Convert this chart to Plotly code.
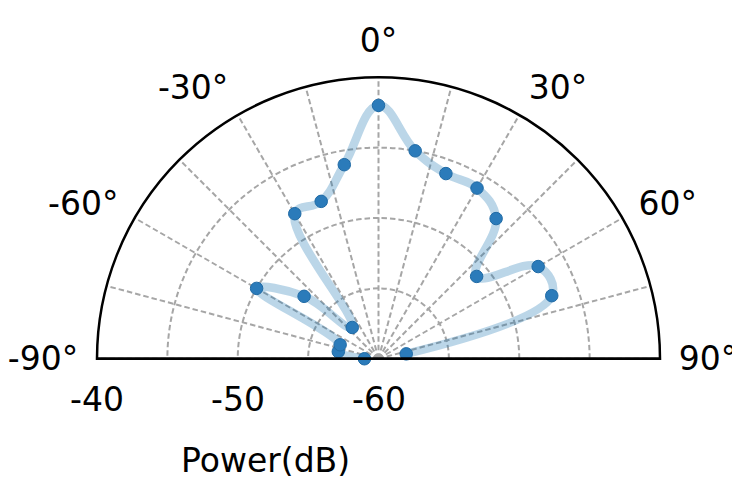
import plotly.graph_objects as go

# Data
angles_deg = [-90, -80, -70, -60, -50, -40, -30, -20, -10, 0, 10, 20, 30, 40, 50, 60, 70, 80]
power_db = [-59.0, -57.1, -57.1, -50.0, -53.1, -57.1, -48.1, -48.1, -46.0, -42.0,
            -45.0, -46.0, -46.0, -47.0, -50.9, -46.9, -46.9, -58.0]

angle_ticks = [-90, -75, -60, -45, -30, -15, 0, 15, 30, 45, 60, 75, 90]
angle_labels = ["-90°", "", "-60°", "", "-30°", "", "0°", "", "30°", "", "60°", "", "90°"]

r_min, r_max = -60, -40
r_grid = [-60, -55, -50, -45, -40]
r_label_vals = [-60, -50, -40]
r_label_text = ["-60", "-50", "-40"]

FONT = "DejaVu Sans"
GRID = "#a6a6a6"
W, H = 740, 480
OFF = 8  # page body margin offset compensation

# polar geometry (window pixels)
x0, x1 = 97 - OFF, 660 - OFF
ytop, ybot = 77 - OFF, 359 - OFF
cx = (x0 + x1) / 2
R = (x1 - x0) / 2

fig = go.Figure()

# smooth light line
fig.add_trace(go.Scatterpolar(
    theta=angles_deg, r=power_db, mode="lines",
    line=dict(color="rgba(31,119,180,0.3)", width=8.5, shape="spline", smoothing=1.2),
    hoverinfo="skip", showlegend=False,
))
# markers
fig.add_trace(go.Scatterpolar(
    theta=angles_deg, r=power_db, mode="markers",
    marker=dict(size=12.5, color="#2b7bba", line=dict(color="#1f6aa5", width=1)),
    showlegend=False,
))
# right half of the sector's straight edge (frame)
fig.add_trace(go.Scatterpolar(
    theta=[90, 90], r=[r_min, r_max], mode="lines",
    line=dict(color="black", width=2.5), hoverinfo="skip", showlegend=False,
))

# radial tick labels below the left half of the baseline (centred on their values)
annotations = []
for v, t in zip(r_label_vals, r_label_text):
    px = cx - (v - r_min) / (r_max - r_min) * R
    annotations.append(dict(
        text=t, x=px / W, y=(H - (399 - OFF)) / H, xref="paper", yref="paper",
        showarrow=False, xanchor="center", yanchor="middle",
        font=dict(family=FONT, size=33, color="black"),
    ))
annotations.append(dict(
    text="Power(dB)", x=(265 - OFF) / W, y=(H - (460 - OFF)) / H, xref="paper", yref="paper",
    showarrow=False, xanchor="center", yanchor="middle",
    font=dict(family=FONT, size=33, color="black"),
))

fig.update_layout(
    width=W, height=H, autosize=False,
    margin=dict(l=0, r=0, t=0, b=0),
    paper_bgcolor="white",
    font=dict(family=FONT, size=33, color="black"),
    polar=dict(
        domain=dict(x=[x0 / W, x1 / W], y=[(H - ybot) / H, (H - ytop) / H]),
        sector=[0, 180],
        bgcolor="white",
        angularaxis=dict(
            rotation=90, direction="clockwise", thetaunit="degrees",
            tickmode="array", tickvals=angle_ticks, ticktext=angle_labels,
            showline=True, linecolor="black", linewidth=2.5,
            showgrid=True, gridcolor=GRID, gridwidth=1.5, griddash="5.5px,3px",
            ticks="outside", ticklen=11, tickcolor="rgba(0,0,0,0)",
            tickfont=dict(family=FONT, size=33, color="black"),
        ),
        radialaxis=dict(
            range=[r_min, r_max], angle=180,
            tickmode="array", tickvals=r_grid, showticklabels=False,
            showline=True, linecolor="black", linewidth=2.5,
            showgrid=True, gridcolor=GRID, gridwidth=1.5, griddash="5.5px,3px",
            ticks="",
        ),
    ),
    annotations=annotations,
)

fig.write_html("out.html")
